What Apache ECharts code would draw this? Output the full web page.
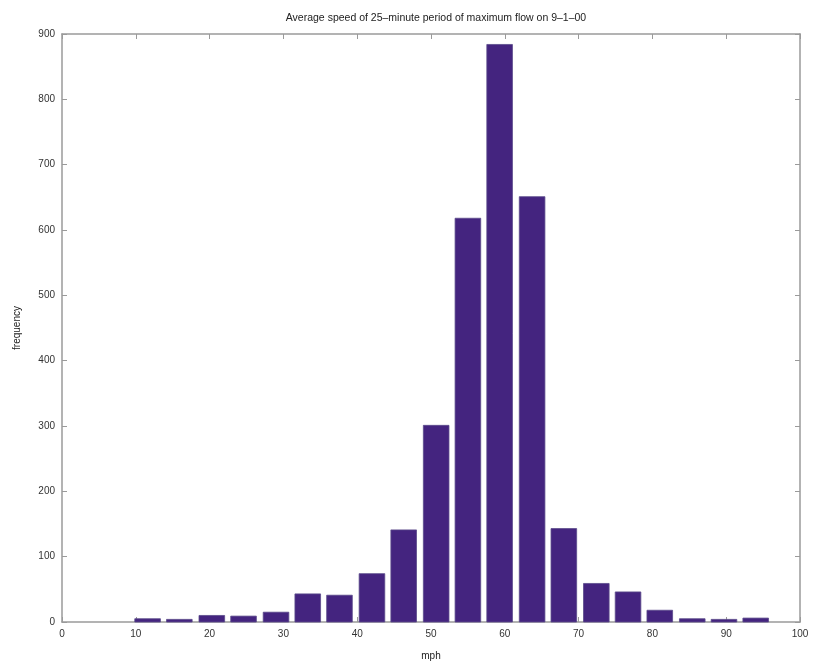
<!DOCTYPE html>
<html>
<head>
<meta charset="utf-8">
<script src="https://cdn.jsdelivr.net/npm/echarts@6/dist/echarts.min.js"></script>
<style>html,body{margin:0;padding:0;background:#fff;}#c{width:818px;height:667px;}</style>
</head>
<body>
<div id="c"></div>
<script>
// Bin centres (mph) and frequencies
const binCenters = [11.6, 15.9, 20.3, 24.6, 29.0, 33.3, 37.6, 42.0, 46.3, 50.7, 55.0, 59.3, 63.7, 68.0, 72.4, 76.7, 81.0, 85.4, 89.7, 94.0];
const frequency  = [5, 4, 10, 9, 15, 43, 41, 74, 141, 301, 618, 884, 651, 143, 59, 46, 18, 5, 4, 6];
const binWidth = 4.34;
const xTicks = [0, 10, 20, 30, 40, 50, 60, 70, 80, 90, 100];
const yTicks = [0, 100, 200, 300, 400, 500, 600, 700, 800, 900];

const data = binCenters.map((c, i) => [c, frequency[i]]);
const font = 'Liberation Sans, Arial, sans-serif';
const axisCol = '#9a9a9a';

const chart = echarts.init(document.getElementById('c'), null, {renderer: 'canvas'});
const xCommon = {
  type: 'value', min: 0, max: 100, interval: 10,
  axisLine: {show: true, onZero: false, lineStyle: {color: axisCol, width: 1.5}},
  axisTick: {show: true, inside: true, length: 5, lineStyle: {color: axisCol}},
  splitLine: {show: false}
};
const yCommon = {
  type: 'value', min: 0, max: 900, interval: 100,
  axisLine: {show: true, onZero: false, lineStyle: {color: axisCol, width: 1.5}},
  axisTick: {show: true, inside: true, length: 5, lineStyle: {color: axisCol}},
  splitLine: {show: false}
};
chart.setOption({
  animation: false,
  backgroundColor: '#fff',
  title: {
    text: 'Average speed of 25\u2013minute period of maximum flow on 9\u20131\u201300',
    left: 431, top: 8, textAlign: 'center',
    textStyle: {fontFamily: font, fontSize: 10.5, fontWeight: 'normal', color: '#222'}
  },
  grid: {left: 62, right: 18, top: 34, bottom: 45},
  xAxis: [
    Object.assign({}, xCommon, {
      position: 'bottom',
      name: 'mph', nameLocation: 'middle', nameGap: 29,
      nameTextStyle: {fontFamily: font, fontSize: 10, color: '#222'},
      axisLabel: {show: true, fontFamily: font, fontSize: 10, color: '#333', margin: 7,
        formatter: v => xTicks.includes(v) ? String(v) : ''}
    }),
    Object.assign({}, xCommon, {position: 'top', axisLabel: {show: false}})
  ],
  yAxis: [
    Object.assign({}, yCommon, {
      position: 'left',
      name: 'frequency', nameLocation: 'middle', nameGap: 40, nameRotate: 90,
      nameTextStyle: {fontFamily: font, fontSize: 10, color: '#222'},
      axisLabel: {show: true, fontFamily: font, fontSize: 10, color: '#333', margin: 7,
        formatter: v => yTicks.includes(v) ? String(v) : ''}
    }),
    Object.assign({}, yCommon, {position: 'right', axisLabel: {show: false}})
  ],
  series: [{
    type: 'custom',
    xAxisIndex: 0, yAxisIndex: 0,
    data: data,
    renderItem: function (params, api) {
      const x = api.value(0), y = api.value(1);
      const w = binWidth * 0.8;
      const p0 = api.coord([x - w / 2, y]);
      const p1 = api.coord([x + w / 2, 0]);
      return {
        type: 'rect',
        shape: {x: p0[0], y: p0[1], width: p1[0] - p0[0], height: p1[1] - p0[1]},
        style: {fill: '#44247f', stroke: '#5a4a8a', lineWidth: 0.8}
      };
    }
  }]
});
</script>
</body>
</html>
